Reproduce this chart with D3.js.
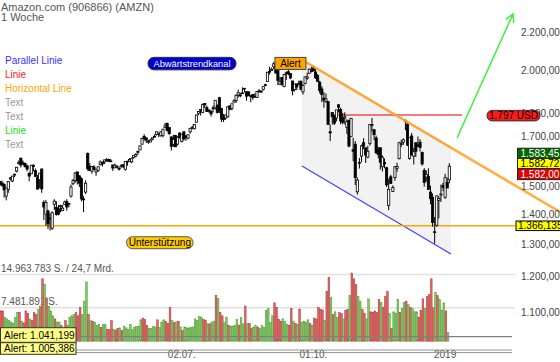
<!DOCTYPE html>
<html>
<head>
<meta charset="utf-8">
<script src="https://cdn.jsdelivr.net/npm/d3@7"></script>
<style>
  body { margin: 0; background: #fff; }
  svg { display: block; font-family: "Liberation Sans", Arial, sans-serif; }
</style>
</head>
<body>
<svg id="chart" width="560" height="362"></svg>
<script>
// Daily candles, AMZN in USD: [date, open, high, low, close]
const prevClose = 1500; // close of 23.02.2018, only used to colour the first volume bar
const ohlc = [
  ["2018-02-26",1509,1522,1507,1522],["2018-02-27",1524,1526,1511,1512],["2018-02-28",1519,1528,1505,1510],
  // March
  ["2018-03-01",1513,1518,1465,1493],["2018-03-02",1470,1501,1455,1500],["2018-03-05",1494,1525,1482,1524],
  ["2018-03-06",1534,1542,1528,1538],["2018-03-07",1526,1545,1522,1545],["2018-03-08",1550,1554,1541,1552],
  ["2018-03-09",1564,1579,1559,1579],["2018-03-12",1593,1606,1590,1598],["2018-03-13",1615,1617,1578,1588],
  ["2018-03-14",1597,1606,1590,1591],["2018-03-15",1595,1596,1578,1582],["2018-03-16",1584,1590,1563,1572],
  ["2018-03-19",1555,1561,1525,1545],["2018-03-20",1554,1587,1554,1587],["2018-03-21",1587,1590,1563,1582],
  ["2018-03-22",1566,1574,1542,1544],["2018-03-23",1539,1549,1495,1496],["2018-03-26",1531,1556,1499,1556],
  ["2018-03-27",1572,1575,1482,1497],["2018-03-28",1448,1455,1386,1431],["2018-03-29",1406,1456,1366,1447],
  // April
  ["2018-04-02",1417,1422,1355,1372],["2018-04-03",1391,1409,1350,1392],["2018-04-04",1358,1416,1352,1411],
  ["2018-04-05",1441,1459,1421,1452],["2018-04-06",1430,1452,1401,1405],["2018-04-09",1425,1438,1402,1406],
  ["2018-04-10",1432,1439,1412,1436],["2018-04-11",1418,1439,1417,1427],["2018-04-12",1440,1454,1438,1449],
  ["2018-04-13",1450,1459,1418,1431],["2018-04-16",1444,1446,1430,1442],["2018-04-17",1470,1513,1465,1504],
  ["2018-04-18",1516,1534,1510,1528],["2018-04-19",1527,1559,1519,1557],["2018-04-20",1561,1561,1513,1527],
  ["2018-04-23",1546,1548,1504,1518],["2018-04-24",1535,1540,1451,1460],["2018-04-25",1460,1470,1413,1460],
  ["2018-04-26",1485,1529,1478,1518],["2018-04-27",1634,1638,1566,1573],["2018-04-30",1583,1596,1565,1566],
  // May
  ["2018-05-01",1564,1583,1554,1582],["2018-05-02",1580,1588,1567,1570],["2018-05-03",1561,1572,1546,1572],
  ["2018-05-04",1567,1581,1561,1581],["2018-05-07",1589,1606,1586,1600],["2018-05-08",1598,1602,1582,1592],
  ["2018-05-09",1600,1608,1592,1608],["2018-05-10",1609,1615,1601,1609],["2018-05-11",1610,1612,1601,1603],
  ["2018-05-14",1604,1612,1600,1602],["2018-05-15",1588,1589,1565,1576],["2018-05-16",1577,1594,1576,1587],
  ["2018-05-17",1580,1588,1575,1582],["2018-05-18",1575,1581,1566,1574],["2018-05-21",1585,1592,1575,1585],
  ["2018-05-22",1589,1589,1575,1581],["2018-05-23",1571,1601,1566,1602],["2018-05-24",1601,1604,1585,1603],
  ["2018-05-25",1603,1615,1600,1610],["2018-05-29",1600,1617,1595,1613],["2018-05-30",1618,1626,1613,1625],
  ["2018-05-31",1623,1635,1619,1630],
  // June
  ["2018-06-01",1638,1646,1628,1642],["2018-06-04",1648,1666,1648,1665],["2018-06-05",1672,1699,1670,1696],
  ["2018-06-06",1704,1714,1686,1695],["2018-06-07",1698,1699,1677,1689],["2018-06-08",1681,1690,1673,1684],
  ["2018-06-11",1681,1694,1681,1689],["2018-06-12",1693,1699,1688,1699],["2018-06-13",1702,1713,1700,1705],
  ["2018-06-14",1713,1724,1708,1724],["2018-06-15",1715,1721,1701,1716],["2018-06-18",1707,1726,1703,1724],
  ["2018-06-19",1709,1737,1700,1735],["2018-06-20",1742,1763,1739,1750],["2018-06-21",1760,1764,1725,1730],
  ["2018-06-22",1742,1743,1711,1716],["2018-06-25",1702,1705,1646,1663],["2018-06-26",1672,1711,1661,1691],
  ["2018-06-27",1708,1711,1661,1661],["2018-06-28",1672,1705,1667,1701],["2018-06-29",1718,1723,1695,1700],
  // July
  ["2018-07-02",1683,1713,1679,1714],["2018-07-03",1724,1725,1687,1694],["2018-07-05",1706,1711,1686,1700],
  ["2018-07-06",1697,1712,1692,1711],["2018-07-09",1724,1739,1716,1739],["2018-07-10",1739,1750,1735,1743],
  ["2018-07-11",1737,1756,1734,1755],["2018-07-12",1765,1799,1764,1797],["2018-07-13",1804,1815,1796,1813],
  ["2018-07-16",1821,1823,1795,1822],["2018-07-17",1809,1849,1805,1844],["2018-07-18",1849,1851,1828,1843],
  ["2018-07-19",1830,1840,1811,1813],["2018-07-20",1819,1823,1807,1814],["2018-07-23",1812,1820,1790,1802],
  ["2018-07-24",1829,1840,1809,1829],["2018-07-25",1829,1863,1822,1864],["2018-07-26",1839,1845,1804,1808],
  ["2018-07-27",1876,1880,1806,1817],["2018-07-30",1827,1829,1766,1779],["2018-07-31",1786,1802,1766,1777],
  // August
  ["2018-08-01",1784,1799,1776,1797],["2018-08-02",1789,1836,1786,1834],["2018-08-03",1838,1842,1818,1823],
  ["2018-08-06",1827,1847,1818,1848],["2018-08-07",1855,1869,1853,1862],["2018-08-08",1862,1891,1852,1887],
  ["2018-08-09",1888,1914,1877,1899],["2018-08-10",1888,1899,1878,1886],["2018-08-13",1898,1925,1893,1896],
  ["2018-08-14",1920,1921,1900,1920],["2018-08-15",1904,1904,1862,1883],["2018-08-16",1903,1905,1883,1887],
  ["2018-08-17",1885,1888,1855,1882],["2018-08-20",1891,1891,1866,1877],["2018-08-21",1880,1897,1874,1883],
  ["2018-08-22",1877,1905,1876,1905],["2018-08-23",1908,1916,1900,1903],["2018-08-24",1906,1911,1899,1905],
  ["2018-08-27",1915,1928,1909,1928],["2018-08-28",1937,1942,1930,1933],["2018-08-29",1953,1999,1950,1998],
  ["2018-08-30",1998,2025,1986,2002],["2018-08-31",2007,2022,2004,2013],
  // September
  ["2018-09-04",2026,2050,2013,2040],["2018-09-05",2038,2040,1989,1995],["2018-09-06",2007,2007,1935,1958],
  ["2018-09-07",1939,1975,1935,1952],["2018-09-10",1972,1973,1932,1939],["2018-09-11",1929,1988,1925,1987],
  ["2018-09-12",1995,2002,1960,1990],["2018-09-13",2000,2009,1983,1990],["2018-09-14",1992,1993,1964,1970],
  ["2018-09-17",1955,1956,1887,1908],["2018-09-18",1914,1941,1905,1941],["2018-09-19",1940,1943,1911,1926],
  ["2018-09-20",1939,1957,1935,1944],["2018-09-21",1954,1957,1910,1915],["2018-09-24",1903,1940,1890,1934],
  ["2018-09-25",1943,1975,1938,1975],["2018-09-26",1968,1995,1961,1975],["2018-09-27",1993,2017,1989,2013],
  ["2018-09-28",2005,2026,1997,2003],
  // October
  ["2018-10-01",2021,2033,2003,2004],["2018-10-02",1999,2014,1965,1971],["2018-10-03",1981,1989,1950,1953],
  ["2018-10-04",1949,1956,1896,1909],["2018-10-05",1917,1930,1855,1890],["2018-10-08",1874,1902,1830,1864],
  ["2018-10-09",1859,1896,1852,1870],["2018-10-10",1858,1858,1754,1755],["2018-10-11",1724,1755,1685,1719],
  ["2018-10-12",1808,1808,1755,1789],["2018-10-15",1795,1795,1753,1761],["2018-10-16",1784,1820,1769,1820],
  ["2018-10-17",1843,1845,1808,1832],["2018-10-18",1822,1830,1756,1771],["2018-10-19",1785,1807,1756,1764],
  ["2018-10-22",1784,1809,1756,1789],["2018-10-23",1742,1778,1715,1769],["2018-10-24",1774,1775,1659,1664],
  ["2018-10-25",1704,1784,1703,1782],["2018-10-26",1649,1699,1603,1643],["2018-10-29",1672,1685,1511,1539],
  ["2018-10-30",1486,1540,1476,1530],["2018-10-31",1594,1616,1574,1598],
  // November
  ["2018-11-01",1623,1670,1599,1665],["2018-11-02",1678,1697,1651,1664],["2018-11-05",1657,1658,1596,1628],
  ["2018-11-06",1619,1665,1615,1643],["2018-11-07",1674,1756,1666,1755],["2018-11-08",1755,1784,1725,1754],
  ["2018-11-09",1733,1736,1688,1712],["2018-11-12",1698,1708,1631,1637],["2018-11-13",1650,1661,1614,1631],
  ["2018-11-14",1657,1659,1570,1599],["2018-11-15",1581,1626,1563,1619],["2018-11-16",1598,1614,1575,1593],
  ["2018-11-19",1577,1581,1504,1512],["2018-11-20",1437,1535,1420,1495],["2018-11-21",1542,1550,1515,1517],
  ["2018-11-23",1487,1510,1485,1502],["2018-11-26",1539,1584,1527,1581],["2018-11-27",1575,1597,1561,1582],
  ["2018-11-28",1613,1682,1610,1678],["2018-11-29",1674,1690,1660,1674],["2018-11-30",1680,1696,1669,1690],
  // December
  ["2018-12-03",1769,1779,1731,1772],["2018-12-04",1757,1771,1665,1668],["2018-12-06",1614,1701,1609,1699],
  ["2018-12-07",1706,1719,1625,1629],["2018-12-10",1623,1657,1590,1641],["2018-12-11",1678,1679,1620,1643],
  ["2018-12-12",1669,1704,1660,1664],["2018-12-13",1680,1693,1642,1658],["2018-12-14",1638,1642,1585,1592],
  ["2018-12-17",1567,1576,1505,1521],["2018-12-18",1541,1567,1524,1551],["2018-12-19",1544,1575,1493,1495],
  ["2018-12-20",1485,1509,1441,1461],["2018-12-21",1465,1480,1363,1377],["2018-12-24",1346,1396,1307,1344],
  ["2018-12-26",1368,1473,1363,1471],["2018-12-27",1455,1470,1391,1462],["2018-12-28",1474,1513,1449,1478],
  ["2018-12-31",1510,1520,1488,1502],
  // January 2019
  ["2019-01-02",1466,1554,1460,1539],["2019-01-03",1521,1539,1500,1500],["2019-01-04",1531,1595,1518,1583]
];

// Volume in million shares, same order as ohlc
const volumes = [
  6.9, 7.0, 6.8,
  6.8, 5.3, 5.0, 4.6, 4.3, 4.0, 5.3, 6.5, 6.5, 4.5, 4.1, 6.8, 6.2, 5.0, 4.6, 6.4, 6.0, 7.1, 7.8, 14.0, 12.7,
  9.7, 7.8, 6.8, 5.7, 5.0, 4.3, 4.3, 3.5, 2.8, 4.6, 3.5, 5.3, 5.7, 6.0, 6.4, 5.7, 7.6, 6.0, 9.0, 13.3, 6.0,
  4.6, 4.4, 4.2, 3.6, 3.8, 3.1, 3.7, 3.7, 2.6, 2.6, 4.6, 2.7, 2.5, 2.8, 3.0, 2.4, 3.4, 3.0, 2.7, 3.8, 2.6, 3.1,
  3.3, 3.3, 4.8, 5.2, 4.9, 3.5, 2.9, 2.9, 3.3, 3.2, 4.8, 3.1, 4.3, 4.8, 4.4, 4.0, 7.6, 4.6, 4.2, 4.3, 4.5,
  3.2, 2.4, 3.2, 3.0, 3.0, 3.1, 3.2, 5.0, 4.7, 5.5, 5.4, 4.9, 4.7, 3.9, 3.9, 4.3, 4.5, 10.3, 9.6, 6.5, 5.7,
  4.2, 5.4, 3.6, 3.4, 3.4, 3.6, 4.9, 3.6, 5.3, 3.9, 7.9, 4.0, 4.0, 2.9, 3.2, 3.5, 3.2, 2.8, 3.5, 3.1, 6.9, 7.3, 4.2,
  5.7, 8.6, 7.6, 4.9, 4.5, 5.0, 4.4, 3.8, 3.6, 7.4, 4.5, 4.0, 3.8, 7.2, 4.2, 4.5, 4.3, 4.8, 4.0,
  3.6, 5.2, 5.0, 7.6, 7.2, 7.0, 4.6, 11.2, 14.3, 9.8, 6.0, 6.6, 5.3, 6.4, 6.2, 5.0, 6.9, 7.1, 10.2, 15.3, 14.0, 12.7, 10.0,
  9.0, 7.1, 6.3, 5.0, 9.5, 6.6, 6.5, 6.8, 6.4, 9.4, 8.7, 7.6, 10.0, 11.2, 6.2, 2.8, 6.6, 6.3, 9.4, 6.5, 7.4,
  8.7, 9.0, 8.2, 7.6, 7.3, 6.6, 6.6, 5.4, 6.9, 9.5, 7.3, 10.0, 10.5, 14.0, 7.5, 10.9, 10.2, 9.3, 7.0,
  8.6, 6.8, 2.0
];

// 1.600 is hidden behind the quote boxes in the original, so it is left out
const priceTicks = [2200, 2000, 1800, 1700, 1500, 1400, 1300, 1200, 1100];
const timeTicks = [["2018-07-02", "02.07."], ["2018-10-01", "01.10."], ["2019-01-02", "2019"]];
const volTicks = [14.963783, 7.481891];   // million shares
const volTurnover = "24,7 Mrd.";
const volAlerts = [1.041199, 1.005386];    // million shares
const quotes = [1583.45, 1582.72, 1582.00]; // high / last / low shown at the right edge

// Drawing tools, positions as [trading-day index, price]
const supportLevel = 1366.135;
const resistanceLine = [[160.4, 1797], [222.1, 1797]];
const trendLine = [[147.4, 2049], [269, 1413.5]];
const channelTop = [[145.5, 2061], [216.8, 1658]];
const channelBottom = [[145.5, 1584], [216.8, 1274]];
const arrowLine = [[219.7, 1698], [246.5, 2308]];
const noteTexts = ["Abwärtstrendkanal", "Alert", "Unterstützung"];
const notePos = [[92.9, 2041], [140, 2042], [77.5, 1310]];
const legendItems = ["Parallel Linie", "Linie", "Horizontal Line", "Text", "Text", "Linie", "Text"];
const legendColors = ["#3333ff", "#ff1a1a", "#ffa500", "#999999", "#999999", "#22dd22", "#999999"];

// ---------------------------------------------------------------
const de = d3.formatLocale({ decimal: ",", thousands: ".", grouping: [3], currency: ["", ""] });
const f0 = de.format(",.0f"), f2 = de.format(",.2f"), f3 = de.format(",.3f");

const svg = d3.select("#chart");
const plotRight = 515;

const x = d3.scaleLinear().domain([24, 216]).range([48, 449.3]);
const y = d3.scaleLog().domain([1100, 2200]).range([313.3, 33.3]);
const yVol = d3.scaleLinear().domain([0, volTicks[0]]).range([341.2, 274.5]);
const pt = (d) => [x(d[0]), y(d[1])];

svg.append("rect").attr("width", 560).attr("height", 362).attr("fill", "#fff");

// header
svg.append("text").attr("x", 1).attr("y", 10.5).attr("font-size", 11).attr("fill", "#555")
  .text("Amazon.com (906866) (AMZN)");
svg.append("text").attr("x", 1).attr("y", 20.5).attr("font-size", 11).attr("fill", "#555")
  .text("1 Woche");

// legend
svg.append("g").selectAll("text").data(legendItems).join("text")
  .attr("x", 5).attr("y", (d, i) => 64 + i * 14)
  .attr("font-size", 10).attr("fill", (d, i) => legendColors[i])
  .text((d) => d);

// channel
const chan = [channelTop[0], channelTop[1], channelBottom[1], channelBottom[0]].map(pt);
svg.append("polygon").attr("points", chan.map((p) => p.join(",")).join(" "))
  .attr("fill", "#f2f2f2");

const lineGen = d3.line().x((d) => x(d[0])).y((d) => y(d[1]));
svg.append("path").attr("d", lineGen(channelTop)).attr("fill", "none")
  .attr("stroke", "#8080ff").attr("stroke-width", 1);
svg.append("path").attr("d", lineGen(channelBottom)).attr("fill", "none")
  .attr("stroke", "#4545ff").attr("stroke-width", 1.3);

// resistance + support
svg.append("path").attr("d", lineGen(resistanceLine)).attr("fill", "none")
  .attr("stroke", "#e00000").attr("stroke-width", 1.1);
svg.append("line").attr("x1", 0).attr("x2", plotRight)
  .attr("y1", y(supportLevel)).attr("y2", y(supportLevel))
  .attr("stroke", "#ffa500").attr("stroke-width", 1.3);

// candles
const bodyW = 2.2;
const candles = svg.append("g").attr("class", "candles");
candles.selectAll("line").data(ohlc).join("line")
  .attr("x1", (d, i) => x(i)).attr("x2", (d, i) => x(i))
  .attr("y1", (d) => y(d[2])).attr("y2", (d) => y(d[3]))
  .attr("stroke", "#000").attr("stroke-width", 1);
candles.selectAll("rect").data(ohlc).join("rect")
  .attr("x", (d, i) => x(i) - bodyW / 2)
  .attr("y", (d) => y(Math.max(d[1], d[4])))
  .attr("width", bodyW)
  .attr("height", (d) => Math.max(0.8, Math.abs(y(d[1]) - y(d[4]))))
  .attr("fill", (d) => (d[4] >= d[1] ? "#fff" : "#000"))
  .attr("stroke", "#000").attr("stroke-width", 0.8);

// downtrend line
svg.append("path").attr("d", lineGen(trendLine)).attr("fill", "none")
  .attr("stroke", "#ffa62b").attr("stroke-width", 2.6).attr("stroke-opacity", 0.9);

// green arrow
const a0 = pt(arrowLine[0]), a1 = pt(arrowLine[1]);
const ang = Math.atan2(a1[1] - a0[1], a1[0] - a0[0]);
const head = [ang + Math.PI - 0.5, ang + Math.PI + 0.5].map((t) => [a1[0] + 9 * Math.cos(t), a1[1] + 9 * Math.sin(t)]);
svg.append("path")
  .attr("d", `M${a0}L${a1}M${head[0]}L${a1}L${head[1]}`)
  .attr("fill", "none").attr("stroke", "#44ee44").attr("stroke-width", 1.5);

// boxed label helper
function boxLabel(cx, cy, w, h, rx, fill, stroke, txt, color, fs) {
  const g = svg.append("g");
  g.append("rect").attr("x", cx - w / 2).attr("y", cy - h / 2).attr("width", w).attr("height", h)
    .attr("rx", rx).attr("fill", fill).attr("stroke", stroke).attr("stroke-width", 1);
  g.append("text").attr("x", cx).attr("y", cy + fs * 0.36).attr("text-anchor", "middle")
    .attr("font-size", fs).attr("fill", color).text(txt);
}

const np = notePos.map(pt);
boxLabel(np[0][0], np[0][1], 88, 12.5, 6, "#0000cc", "#333", noteTexts[0], "#fff", 9.3);
boxLabel(np[1][0], np[1][1], 31, 12, 0, "#ffa500", "#444", noteTexts[1], "#000", 10);
boxLabel(np[2][0], np[2][1], 66.5, 12, 6, "#ffcc00", "#555", noteTexts[2], "#000", 10);

// right price axis
svg.append("g").selectAll("text").data(priceTicks).join("text")
  .attr("x", 521).attr("y", (d) => y(d) + 2.3)
  .attr("font-size", 10).attr("fill", "#444")
  .text((d) => f2(d));

// price markers on the right
boxLabel(513.5, y(resistanceLine[0][1]) + 0.6, 53, 10.5, 5, "#ff1a1a", "#333",
  f0(resistanceLine[0][1]) + " USD", "#000", 10);

function edgeBox(top, h, fill, txt, color) {
  svg.append("rect").attr("x", 517.5).attr("y", top).attr("width", 50).attr("height", h)
    .attr("fill", fill).attr("stroke", "#222").attr("stroke-width", 1);
  svg.append("text").attr("x", 520.5).attr("y", top + h / 2 + 3.6)
    .attr("font-size", 10).attr("fill", color).text(txt);
}
const lastY = y(quotes[1]) - 2.8;
edgeBox(lastY - 15.3, 10.2, "#006600", f2(quotes[0]), "#fff");
edgeBox(lastY - 5.1, 10.2, "#ffff00", f2(quotes[1]), "#000");
edgeBox(lastY + 5.1, 11, "#e00000", f2(quotes[2]), "#fff");

svg.append("rect").attr("x", 516).attr("y", y(supportLevel) - 4.8).attr("width", 50).attr("height", 9.6)
  .attr("fill", "#ffff00").attr("stroke", "#000").attr("stroke-width", 1);
svg.append("text").attr("x", 518).attr("y", y(supportLevel) + 3.6)
  .attr("font-size", 10).attr("fill", "#000").text(f3(supportLevel));

// ---------------- volume panel ----------------
svg.append("g").selectAll("line").data(volTicks).join("line")
  .attr("x1", 0).attr("x2", plotRight).attr("y1", (d) => yVol(d)).attr("y2", (d) => yVol(d))
  .attr("stroke", "#e2e2e2").attr("stroke-width", 1.5);
svg.append("g").selectAll("text").data(volTicks).join("text")
  .attr("x", 1).attr("y", (d) => yVol(d) - 3)
  .attr("font-size", 10).attr("fill", "#555")
  .text((d, i) => f0(d * 1e6) + " S." + (i === 0 ? " / " + volTurnover : ""));

const upDay = (i) => ohlc[i][4] >= (i ? ohlc[i - 1][4] : prevClose);
svg.append("g").selectAll("rect").data(volumes).join("rect")
  .attr("x", (d, i) => x(i) - 1.3 - 0.85)
  .attr("y", (d) => yVol(d))
  .attr("width", 1.7)
  .attr("height", (d) => yVol(0) - yVol(d))
  .attr("fill", (d, i) => (upDay(i) ? "#80c864" : "#e06666"))
  .attr("stroke", (d, i) => (upDay(i) ? "#4d9a33" : "#b03838"))
  .attr("stroke-width", 0.5);

// volume alert line
svg.append("line").attr("x1", 0).attr("x2", 512)
  .attr("y1", yVol(volAlerts[0])).attr("y2", yVol(volAlerts[0]))
  .attr("stroke", "#808080").attr("stroke-width", 1.2);

// time axis
svg.append("g").selectAll("text").data(timeTicks).join("text")
  .attr("x", (d) => x(ohlc.findIndex((r) => r[0] === d[0])))
  .attr("y", 357.5).attr("text-anchor", "middle")
  .attr("font-size", 10).attr("fill", "#555")
  .text((d) => d[1]);
[350, 352.6].forEach((yy) => {
  svg.append("line").attr("x1", 0).attr("x2", 512).attr("y1", yy).attr("y2", yy)
    .attr("stroke", "#888").attr("stroke-width", 0.9);
});

// alert labels
volAlerts.forEach((v, i) => {
  const top = [327.7, 342.7][i], h = [14.6, 11.6][i];
  svg.append("rect").attr("x", 0.5).attr("y", top).attr("width", 75.5).attr("height", h)
    .attr("fill", "#ffff88").attr("stroke", "#333").attr("stroke-width", 1);
  svg.append("text").attr("x", 4).attr("y", top + h / 2 + 3.6)
    .attr("font-size", 10).attr("fill", "#000").text("Alert: " + f3(v * 1000));
});
</script>
</body>
</html>
